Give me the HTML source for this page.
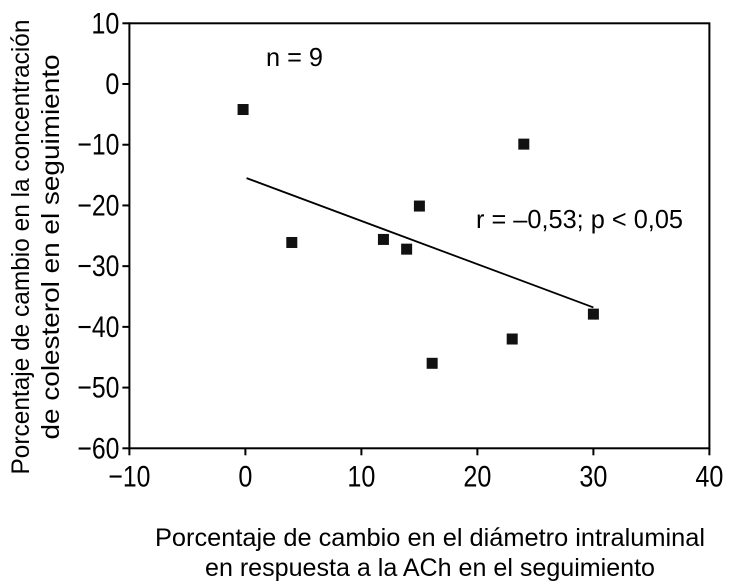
<!DOCTYPE html>
<html><head><meta charset="utf-8"><style>
html,body{margin:0;padding:0;background:#fff;}
svg{display:block;font-family:"Liberation Sans Narrow","Liberation Sans",sans-serif;}
</style></head><body>
<svg id="chart" width="730" height="586" viewBox="0 0 730 586">
<rect x="0" y="0" width="730" height="586" fill="#fff"/>
<g id="plot"></g>
<text x="266" y="66" font-size="26" textLength="57" lengthAdjust="spacingAndGlyphs">n = 9</text>
<text x="476" y="228" font-size="26" textLength="207" lengthAdjust="spacingAndGlyphs">r = –0,53; p &lt; 0,05</text>
<g font-size="25">
<text x="430" y="546" text-anchor="middle" textLength="550" lengthAdjust="spacingAndGlyphs">Porcentaje de cambio en el diámetro intraluminal</text>
<text x="430" y="576" text-anchor="middle" textLength="450" lengthAdjust="spacingAndGlyphs">en respuesta a la ACh en el seguimiento</text>
</g>
<g font-size="25">
<text transform="translate(29,247) rotate(-90)" text-anchor="middle" textLength="455" lengthAdjust="spacingAndGlyphs">Porcentaje de cambio en la concentración</text>
<text transform="translate(59,247) rotate(-90)" text-anchor="middle" textLength="385" lengthAdjust="spacingAndGlyphs">de colesterol en el seguimiento</text>
</g>
</svg>
<script>
const xTicks = [-10, 0, 10, 20, 30, 40];
const yTicks = [10, 0, -10, -20, -30, -40, -50, -60];
const xValues = [-0.2, 4.0, 11.9, 13.9, 15.0, 16.1, 24.0, 23.0, 30.0];
const yValues = [-4.2, -26.1, -25.6, -27.2, -20.1, -46.0, -9.9, -42.0, -37.9];
const trendX = [0.1, 30];
const trendY = [-15.5, -36.8];

const X0 = 129.4, X1 = 709.4, Y0 = 23.3, Y1 = 448.3;
const xs = v => X0 + (v - (-10)) / 50 * (X1 - X0);
const ys = v => Y0 + (10 - v) / 70 * (Y1 - Y0);
const NS = "http://www.w3.org/2000/svg";
const g = document.getElementById('plot');
function mk(tag, attrs){const e=document.createElementNS(NS,tag);for(const k in attrs)e.setAttribute(k,attrs[k]);g.appendChild(e);return e;}
const lbl = t => t<0 ? '\u2212'+Math.abs(t) : String(t);

const frame = mk('rect',{x:X0,y:Y0,width:X1-X0,height:Y1-Y0,fill:'none',stroke:'#000','stroke-width':2});



xTicks.forEach(t=>{
  const x = xs(t);
  const l = mk('line',{x1:x,y1:Y1,x2:x,y2:Y1+7,stroke:'#000','stroke-width':2});
  
  
  const s = lbl(t);
  const tx = mk('text',{x:x,y:Y1+38,'text-anchor':'middle','font-size':30,textLength:s.length*14,lengthAdjust:'spacingAndGlyphs'});
  tx.textContent = s;
  
  
});
yTicks.forEach(t=>{
  const y = ys(t);
  const l = mk('line',{x1:X0-7,y1:y,x2:X0,y2:y,stroke:'#000','stroke-width':2});
  
  
  const s = lbl(t);
  const tx = mk('text',{x:X0-10,y:y+10,'text-anchor':'end','font-size':30,textLength:s.length*14,lengthAdjust:'spacingAndGlyphs'});
  tx.textContent = s;
  
  
});

const tl = mk('line',{x1:xs(trendX[0]),y1:ys(trendY[0]),x2:xs(trendX[1]),y2:ys(trendY[1]),stroke:'#000','stroke-width':1.8});



xValues.forEach((v,i)=>{
  const p = mk('rect',{x:xs(v)-5.5,y:ys(yValues[i])-5.5,width:11,height:11,fill:'#111'});
  
  
});
</script>
</body></html>
